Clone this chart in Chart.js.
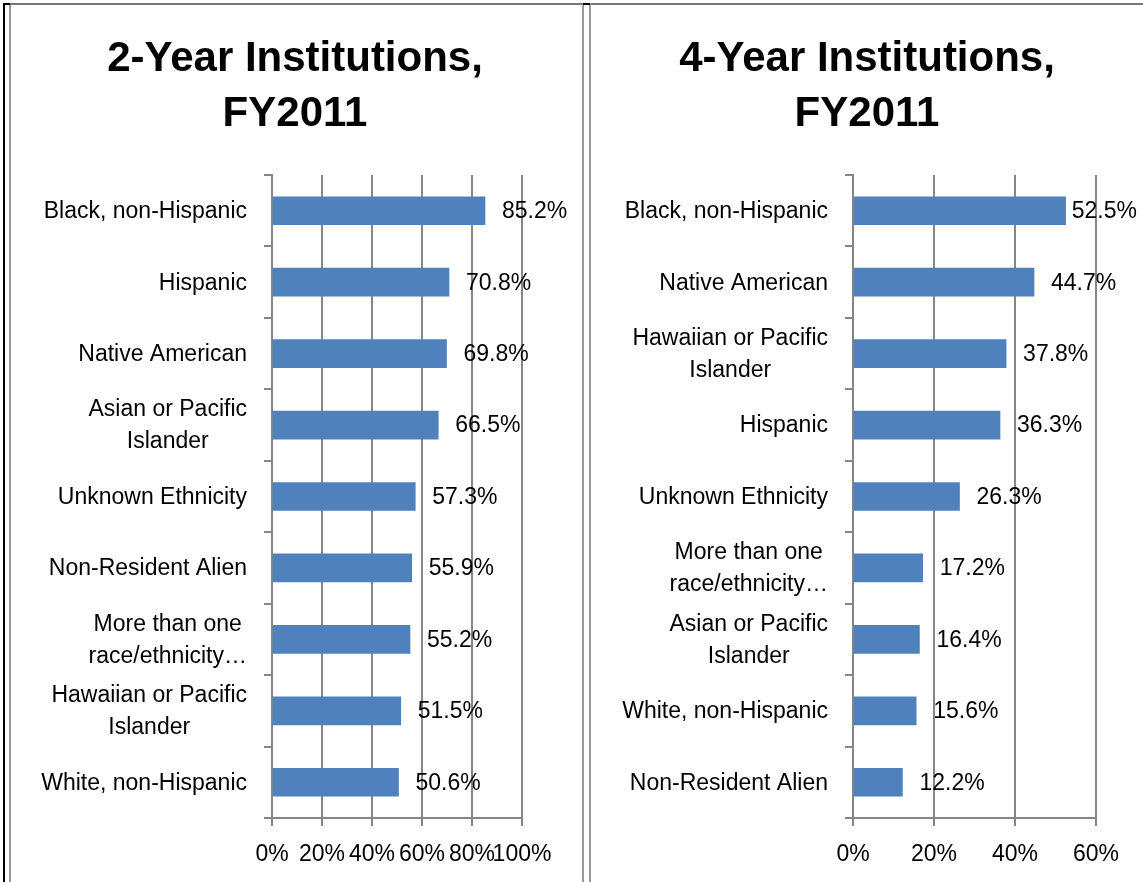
<!DOCTYPE html>
<html lang="en">
<head>
<meta charset="UTF-8">
<title>Institutions FY2011</title>
<script src="https://cdn.jsdelivr.net/npm/chart.js@4.4.1/dist/chart.umd.min.js"></script>
<style>
  body { margin: 0; background: #fff; width: 1143px; height: 882px; position: relative; overflow: hidden; }
  .ln { position: absolute; }
  .box { position: absolute; }
</style>
</head>
<body>
<!-- frame lines -->
<div class="ln" style="left:3px;top:3px;width:2px;height:879px;background:#000"></div>
<div class="ln" style="left:9px;top:3px;width:2px;height:879px;background:#999"></div>
<div class="ln" style="left:9px;top:3px;width:1134px;height:2px;background:#777"></div>
<div class="ln" style="left:3px;top:3px;width:7px;height:2px;background:#000"></div>
<div class="ln" style="left:582px;top:3px;width:2px;height:879px;background:#999"></div>
<div class="ln" style="left:589px;top:3px;width:2px;height:879px;background:#999"></div>
<div class="ln" style="left:583px;top:3px;width:7px;height:2px;background:#000"></div>

<div class="box" style="left:10px;top:5px;width:570px;height:877px"><canvas id="c2"></canvas></div>
<div class="box" style="left:591px;top:5px;width:552px;height:877px"><canvas id="c4"></canvas></div>

<script>
// 2-year institutions
const cats2 = ["Black, non-Hispanic", "Hispanic", "Native American", ["Asian or Pacific", "Islander"],
  "Unknown Ethnicity", "Non-Resident Alien", ["More than one", "race/ethnicity\u2026"],
  ["Hawaiian or Pacific", "Islander"], "White, non-Hispanic"];
const vals2 = [85.2, 70.8, 69.8, 66.5, 57.3, 55.9, 55.2, 51.5, 50.6];
const max2 = 100;

// 4-year institutions
const cats4 = ["Black, non-Hispanic", "Native American", ["Hawaiian or Pacific", "Islander"], "Hispanic",
  "Unknown Ethnicity", ["More than one", "race/ethnicity\u2026"], ["Asian or Pacific", "Islander"],
  "White, non-Hispanic", "Non-Resident Alien"];
const vals4 = [52.5, 44.7, 37.8, 36.3, 26.3, 17.2, 16.4, 15.6, 12.2];
const max4 = 60;

const FONT = "'Liberation Sans', Arial, sans-serif";
const GRAY = '#868686';

// value labels at the bar ends
const valueLabels = {
  id: 'valueLabels',
  afterDatasetsDraw(chart) {
    const ctx = chart.ctx;
    const meta = chart.getDatasetMeta(0);
    ctx.save();
    ctx.font = '23px ' + FONT;
    ctx.fillStyle = '#000';
    ctx.textBaseline = 'middle';
    ctx.textAlign = 'left';
    meta.data.forEach((bar, i) => {
      const txt = chart.data.datasets[0].data[i].toFixed(1) + '%';
      const w = ctx.measureText(txt).width;
      let x = bar.x + 17;
      if (x + w > chart.width - 6) x = chart.width - 6 - w;
      ctx.fillText(txt, x, bar.y + 1);
    });
    ctx.restore();
  }
};

// category labels: block right-aligned, lines centred within the block (like Excel)
const catLabels = {
  id: 'catLabels',
  afterDraw(chart) {
    const ctx = chart.ctx;
    const y = chart.scales.y;
    const right = chart.chartArea.left - 25;
    ctx.save();
    ctx.font = '23px ' + FONT;
    ctx.fillStyle = '#000';
    ctx.textBaseline = 'middle';
    ctx.textAlign = 'center';
    chart.data.labels.forEach((lab, i) => {
      const lines = Array.isArray(lab) ? lab : [lab];
      const bw = Math.max(...lines.map(l => ctx.measureText(l).width));
      const cy = y.getPixelForTick(i);
      lines.forEach((l, j) => {
        ctx.fillText(l, right - bw / 2, cy + 1 + (j - (lines.length - 1) / 2) * 32);
      });
    });
    ctx.restore();
  }
};

function makeChart(id, title, cats, vals, max, padSide) {
  return new Chart(document.getElementById(id), {
    type: 'bar',
    data: {
      labels: cats,
      datasets: [{
        data: vals,
        backgroundColor: '#4f81bd',
        borderWidth: 0,
        barThickness: 28
      }]
    },
    options: {
      indexAxis: 'y',
      responsive: true,
      maintainAspectRatio: false,
      animation: false,
      layout: { padding: { left: padSide, right: padSide, top: 0, bottom: 0 } },
      plugins: {
        legend: { display: false },
        tooltip: { enabled: false },
        title: {
          display: true,
          text: title,
          color: '#000',
          font: { family: FONT, size: 42, weight: 'bold', lineHeight: 55 / 42 },
          padding: { top: 27, bottom: 33 }
        }
      },
      scales: {
        x: {
          min: 0,
          max: max,
          ticks: {
            stepSize: 20,
            autoSkip: false,
            maxRotation: 0,
            color: '#000',
            padding: 15,
            font: { family: FONT, size: 23 },
            callback: (v) => v + '%'
          },
          grid: { color: GRAY, lineWidth: 2, tickLength: 8 },
          border: { color: GRAY, width: 2 },
          afterFit: (s) => { s.height = 64; }
        },
        y: {
          ticks: { display: false },
          grid: { drawOnChartArea: false, offset: true, color: GRAY, lineWidth: 2, tickLength: 8 },
          border: { color: GRAY, width: 2 },
          afterFit: (s) => { s.width = 262 - padSide; }
        }
      }
    },
    plugins: [valueLabels, catLabels]
  });
}

makeChart('c2', ['2-Year Institutions,', 'FY2011'], cats2, vals2, max2, 58);
makeChart('c4', ['4-Year Institutions,', 'FY2011'], cats4, vals4, max4, 47);
</script>
</body>
</html>
